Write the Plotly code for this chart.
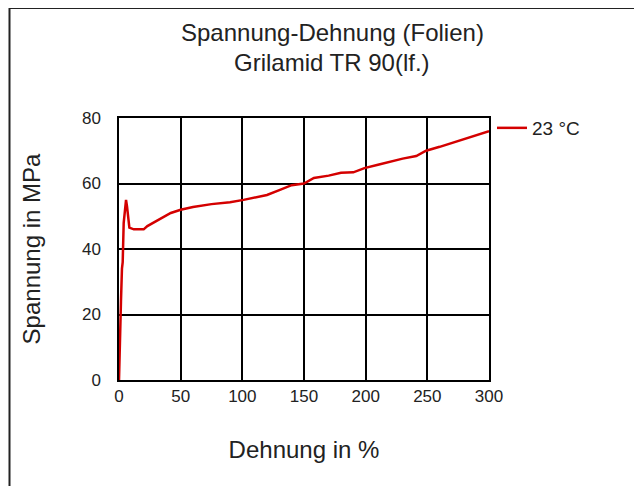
import plotly.graph_objects as go

strain = [0, 0.3, 0.8, 1.2, 1.6, 2.4, 3.0, 3.8, 4.5, 5.7, 6.5, 7.5, 8.4, 12, 20, 23, 28, 34, 42, 50,
          60, 75, 90, 101, 110, 120, 130, 140, 150, 158, 170, 180, 190, 199, 210, 220, 230, 241,
          249, 260, 270, 280, 290, 300]
stress = [0, 7, 8, 22, 24, 34, 36, 48, 50, 55, 53, 50, 46.5, 46, 46, 47, 48, 49.4, 51, 52,
          52.8, 53.7, 54.3, 55, 55.8, 56.5, 58, 59.5, 60, 61.7, 62.4, 63.3, 63.4, 64.7, 65.7, 66.7, 67.6, 68.4,
          70, 71.2, 72.4, 73.5, 74.6, 76]
series_name = "23 °C"
title_lines = ["Spannung-Dehnung (Folien)", "Grilamid TR 90(lf.)"]
x_title = "Dehnung in %"
y_title = "Spannung in MPa"

FONT = "Liberation Sans, Arial, sans-serif"
TXT = "#222222"

fig = go.Figure()
fig.add_trace(go.Scatter(x=strain, y=stress, mode="lines", name=series_name,
                         line=dict(color="#d40000", width=2.5)))

# page offset of the plot div (body margin)
OX, OY = 7, 8
PL, PT, PR, PB = 118, 118, 488, 380  # plot area in screen pixels
W, H = 642, 486
pw, ph = PR - PL, PB - PT
L, T = PL - OX, PT - OY
R, B = W - L - pw, H - T - ph

def px_x(p):
    return (p - PL) / pw

def px_y(p):
    return (PB - p) / ph

fig.update_layout(
    width=W, height=H,
    margin=dict(l=L, r=R, t=T, b=B),
    paper_bgcolor="white", plot_bgcolor="white",
    font=dict(family=FONT, color=TXT, size=17),
    showlegend=True,
    legend=dict(x=px_x(491), y=px_y(109), xanchor="left", yanchor="top",
                font=dict(size=19, color=TXT), bgcolor="rgba(0,0,0,0)"),
    xaxis=dict(range=[0, 300], tick0=0, dtick=50, showgrid=True, gridcolor="black", gridwidth=1.5,
               showline=True, linecolor="black", linewidth=1.5, mirror=True, zeroline=False,
               ticks="", ticklabelstandoff=0, tickfont=dict(size=17),
               title=dict(text=x_title, font=dict(size=24), standoff=36)),
    yaxis=dict(range=[0, 80], tick0=0, dtick=20, showgrid=True, gridcolor="black", gridwidth=1.5,
               showline=True, linecolor="black", linewidth=1.5, mirror=True, zeroline=False,
               ticks="", ticklabelstandoff=13, tickfont=dict(size=17),
               title=dict(text=y_title, font=dict(size=24), standoff=35)),
    annotations=[
        dict(text=title_lines[0], x=px_x(331), y=px_y(33), xref="paper", yref="paper",
             showarrow=False, font=dict(size=24, color=TXT), xanchor="center", yanchor="middle"),
        dict(text=title_lines[1], x=px_x(331), y=px_y(62), xref="paper", yref="paper",
             showarrow=False, font=dict(size=24, color=TXT), xanchor="center", yanchor="middle"),
    ],
    shapes=[dict(type="rect", xref="paper", yref="paper", x0=px_x(8.5), y0=px_y(520),
                 x1=px_x(700), y1=px_y(8), line=dict(color="#222222", width=2))],
)

fig.write_html("out.html")
